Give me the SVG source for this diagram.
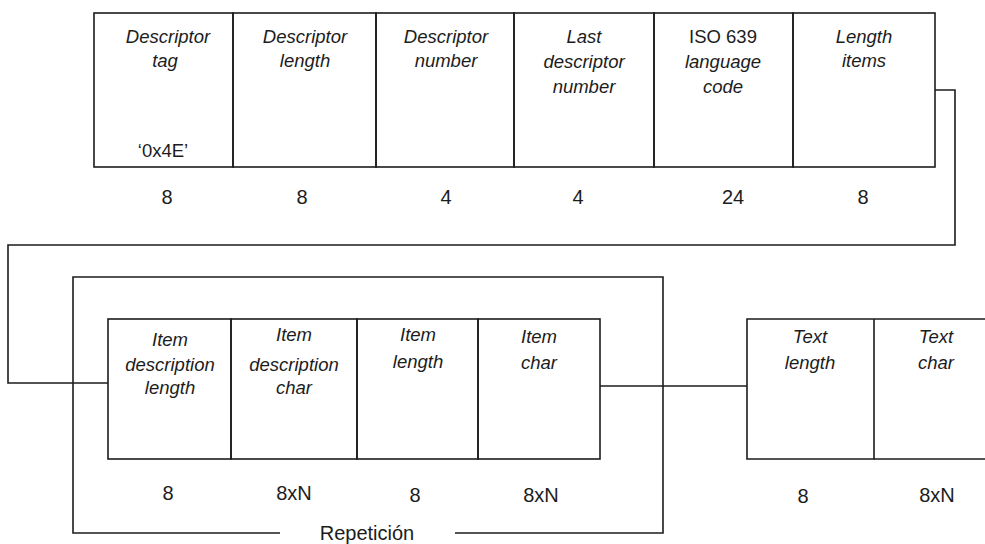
<svg xmlns="http://www.w3.org/2000/svg" width="985" height="544" viewBox="0 0 985 544">
<style>
.b{fill:none;stroke:#1c1c1c;stroke-width:1.6}
.l{font-family:"Liberation Sans",Arial,sans-serif;font-size:18.5px;font-style:italic;fill:#1c1c1c;text-anchor:middle}
.u{font-family:"Liberation Sans",Arial,sans-serif;font-size:18.5px;fill:#1c1c1c;text-anchor:middle}
.n{font-family:"Liberation Sans",Arial,sans-serif;font-size:20px;fill:#1c1c1c;text-anchor:middle}
</style>
<rect width="985" height="544" fill="#fff"/>
<g id="connectors" class="b">
<path d="M935 90 H955 V245 H8 V383 H108"/>
<path d="M600 386 H747"/>
</g>
<g id="repeticion">
<path class="b" d="M280 533 H73 V277 H663 V533 H455"/>
<text class="n" x="367" y="540">Repetición</text>
</g>
<g id="descriptor-tag">
<rect class="b" x="94" y="13" width="139" height="154"/>
<text class="l" x="168" y="43">Descriptor</text>
<text class="l" x="165" y="67">tag</text>
<text class="u" x="163" y="157">‘0x4E’</text>
<text class="n" x="167" y="204">8</text>
</g>
<g id="descriptor-length">
<rect class="b" x="233" y="13" width="143" height="154"/>
<text class="l" x="305" y="43">Descriptor</text>
<text class="l" x="305" y="67">length</text>
<text class="n" x="302" y="204">8</text>
</g>
<g id="descriptor-number">
<rect class="b" x="376" y="13" width="138" height="154"/>
<text class="l" x="446" y="43">Descriptor</text>
<text class="l" x="446" y="67">number</text>
<text class="n" x="446" y="204">4</text>
</g>
<g id="last-descriptor-number">
<rect class="b" x="514" y="13" width="140" height="154"/>
<text class="l" x="584" y="43">Last</text>
<text class="l" x="584" y="68">descriptor</text>
<text class="l" x="584" y="93">number</text>
<text class="n" x="578" y="204">4</text>
</g>
<g id="iso-639-language-code">
<rect class="b" x="654" y="13" width="139" height="154"/>
<text class="u" x="723" y="43">ISO 639</text>
<text class="l" x="723" y="68">language</text>
<text class="l" x="723" y="93">code</text>
<text class="n" x="733" y="204">24</text>
</g>
<g id="length-items">
<rect class="b" x="793" y="13" width="142" height="154"/>
<text class="l" x="864" y="43">Length</text>
<text class="l" x="864" y="67">items</text>
<text class="n" x="863" y="204">8</text>
</g>
<g id="item-description-length">
<rect class="b" x="108" y="319" width="123" height="140"/>
<text class="l" x="170" y="346">Item</text>
<text class="l" x="170" y="371">description</text>
<text class="l" x="170" y="394">length</text>
<text class="n" x="168" y="500">8</text>
</g>
<g id="item-description-char">
<rect class="b" x="231" y="319" width="126" height="140"/>
<text class="l" x="294" y="341">Item</text>
<text class="l" x="294" y="371">description</text>
<text class="l" x="294" y="394">char</text>
<text class="n" x="294" y="500">8xN</text>
</g>
<g id="item-length">
<rect class="b" x="357" y="319" width="121" height="140"/>
<text class="l" x="418" y="341">Item</text>
<text class="l" x="418" y="368">length</text>
<text class="n" x="415" y="502">8</text>
</g>
<g id="item-char">
<rect class="b" x="478" y="319" width="122" height="140"/>
<text class="l" x="539" y="343">Item</text>
<text class="l" x="539" y="369">char</text>
<text class="n" x="541" y="502">8xN</text>
</g>
<g id="text-length">
<path class="b" d="M874 319 H747 V459 H874 V319"/>
<text class="l" x="810" y="343">Text</text>
<text class="l" x="810" y="369">length</text>
<text class="n" x="803" y="503">8</text>
</g>
<g id="text-char">
<path class="b" d="M874 319 H986 M874 459 H986"/>
<text class="l" x="936" y="343">Text</text>
<text class="l" x="936" y="369">char</text>
<text class="n" x="937" y="502">8xN</text>
</g>
</svg>
